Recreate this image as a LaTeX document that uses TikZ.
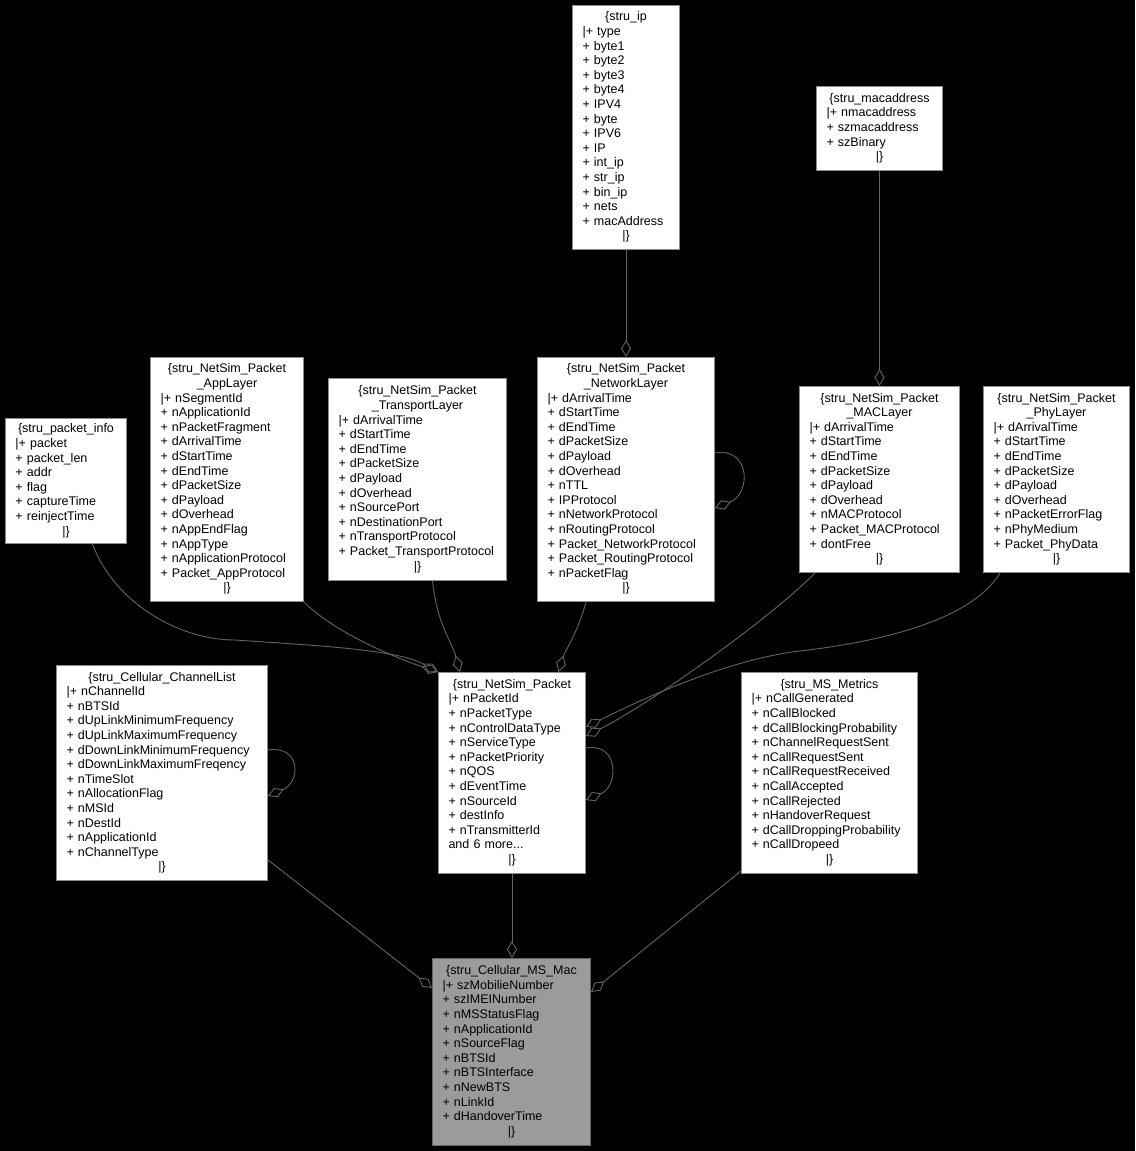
\documentclass[tikz,border=0pt]{standalone}
\usepackage{fontspec}
\setmainfont{Liberation Sans}
\usetikzlibrary{arrows.meta}
\definecolor{linkgray}{HTML}{646464}
\definecolor{boxline}{HTML}{8C8C8C}
\definecolor{mainfill}{HTML}{9B9B9B}
\newcommand{\recfont}{\fontsize{12.5pt}{14.6pt}\selectfont}
\newcommand{\hd}[1]{\makebox[\linewidth][c]{\strut#1}}
\tikzset{
  struct/.style={draw=boxline, fill=white, line width=1pt, anchor=north west,
    inner xsep=10pt, inner ysep=0pt, align=left, font=\recfont},
  link/.style={draw=linkgray, line width=0.9pt,
    -{Diamond[open,length=17pt,width=10pt]}}
}
\begin{document}
\begin{tikzpicture}[x=1pt,y=-1pt]
  \fill[black] (0,0) rectangle (1135,1151);
  \useasboundingbox (0,0) rectangle (1135,1151);

  \node[struct, text width=87pt, minimum height=244pt] (ip) at (572,5)
    {\hd{\{stru\_ip}\\|+ type\\+ byte1\\+ byte2\\+ byte3\\+ byte4\\+ IPV4\\+ byte\\+ IPV6\\+ IP\\+ int\_ip\\+ str\_ip\\+ bin\_ip\\+ nets\\+ macAddress\\\hd{|\}}};
  \node[struct, text width=106pt, minimum height=84pt] (mac) at (816,86)
    {\hd{\{stru\_macaddress}\\|+ nmacaddress\\+ szmacaddress\\+ szBinary\\\hd{|\}}};
  \node[struct, text width=101pt, minimum height=125pt] (pinfo) at (5,418)
    {\hd{\{stru\_packet\_info}\\|+ packet\\+ packet\_len\\+ addr\\+ flag\\+ captureTime\\+ reinjectTime\\\hd{|\}}};
  \node[struct, text width=133pt, minimum height=244pt] (app) at (150,357)
    {\hd{\{stru\_NetSim\_Packet}\\\hd{\_AppLayer}\\|+ nSegmentId\\+ nApplicationId\\+ nPacketFragment\\+ dArrivalTime\\+ dStartTime\\+ dEndTime\\+ dPacketSize\\+ dPayload\\+ dOverhead\\+ nAppEndFlag\\+ nAppType\\+ nApplicationProtocol\\+ Packet\_AppProtocol\\\hd{|\}}};
  \node[struct, text width=158pt, minimum height=202pt] (trans) at (328,378)
    {\hd{\{stru\_NetSim\_Packet}\\\hd{\_TransportLayer}\\|+ dArrivalTime\\+ dStartTime\\+ dEndTime\\+ dPacketSize\\+ dPayload\\+ dOverhead\\+ nSourcePort\\+ nDestinationPort\\+ nTransportProtocol\\+ Packet\_TransportProtocol\\\hd{|\}}};
  \node[struct, text width=157pt, minimum height=244pt] (net) at (537,357)
    {\hd{\{stru\_NetSim\_Packet}\\\hd{\_NetworkLayer}\\|+ dArrivalTime\\+ dStartTime\\+ dEndTime\\+ dPacketSize\\+ dPayload\\+ dOverhead\\+ nTTL\\+ IPProtocol\\+ nNetworkProtocol\\+ nRoutingProtocol\\+ Packet\_NetworkProtocol\\+ Packet\_RoutingProtocol\\+ nPacketFlag\\\hd{|\}}};
  \node[struct, text width=140pt, minimum height=186pt] (macl) at (799,386)
    {\hd{\{stru\_NetSim\_Packet}\\\hd{\_MACLayer}\\|+ dArrivalTime\\+ dStartTime\\+ dEndTime\\+ dPacketSize\\+ dPayload\\+ dOverhead\\+ nMACProtocol\\+ Packet\_MACProtocol\\+ dontFree\\\hd{|\}}};
  \node[struct, text width=126pt, minimum height=186pt] (phy) at (983,386)
    {\hd{\{stru\_NetSim\_Packet}\\\hd{\_PhyLayer}\\|+ dArrivalTime\\+ dStartTime\\+ dEndTime\\+ dPacketSize\\+ dPayload\\+ dOverhead\\+ nPacketErrorFlag\\+ nPhyMedium\\+ Packet\_PhyData\\\hd{|\}}};
  \node[struct, text width=191pt, minimum height=215pt] (chan) at (56,665)
    {\hd{\{stru\_Cellular\_ChannelList}\\|+ nChannelId\\+ nBTSId\\+ dUpLinkMinimumFrequency\\+ dUpLinkMaximumFrequency\\+ dDownLinkMinimumFrequency\\+ dDownLinkMaximumFreqency\\+ nTimeSlot\\+ nAllocationFlag\\+ nMSId\\+ nDestId\\+ nApplicationId\\+ nChannelType\\\hd{|\}}};
  \node[struct, text width=127pt, minimum height=201pt] (pkt) at (438,672)
    {\hd{\{stru\_NetSim\_Packet}\\|+ nPacketId\\+ nPacketType\\+ nControlDataType\\+ nServiceType\\+ nPacketPriority\\+ nQOS\\+ dEventTime\\+ nSourceId\\+ destInfo\\+ nTransmitterId\\and 6 more...\\\hd{|\}}};
  \node[struct, text width=156pt, minimum height=201pt] (metr) at (741,672)
    {\hd{\{stru\_MS\_Metrics}\\|+ nCallGenerated\\+ nCallBlocked\\+ dCallBlockingProbability\\+ nChannelRequestSent\\+ nCallRequestSent\\+ nCallRequestReceived\\+ nCallAccepted\\+ nCallRejected\\+ nHandoverRequest\\+ dCallDroppingProbability\\+ nCallDropeed\\\hd{|\}}};
  \node[struct, fill=mainfill, draw=linkgray, text width=138pt, minimum height=187pt] (msmac) at (432,958)
    {\hd{\{stru\_Cellular\_MS\_Mac}\\|+ szMobilieNumber\\+ szIMEINumber\\+ nMSStatusFlag\\+ nApplicationId\\+ nSourceFlag\\+ nBTSId\\+ nBTSInterface\\+ nNewBTS\\+ nLinkId\\+ dHandoverTime\\\hd{|\}}};

  \coordinate (pinfobend) at (235,640);
  \coordinate (phybend) at (800,651);

  \draw[link] (ip.south) -- (ip.south |- net.north);
  \draw[link] (mac.south) -- (mac.south |- macl.north);
  \draw[link] ([yshift=-96pt]net.north east) .. controls +(36,-6) and +(36,-14) .. ([yshift=-151pt]net.north east);
  \draw[link] ([xshift=26.5pt]pinfo.south) .. controls +(20,55) and +(-60,0) .. (pinfobend)
    .. controls +(90,6) and +(-40,-22) .. (pkt.north west);
  \draw[link] (app.south east) .. controls +(30,30) and +(-45,-15) .. (pkt.north west);
  \draw[link] ([xshift=15pt]trans.south) .. controls +(5,45) and +(-8,-30) .. ([xshift=22pt]pkt.north west);
  \draw[link] ([xshift=-40pt]net.south) .. controls +(-8,30) and +(6,-20) .. ([xshift=46.5pt]pkt.north);
  \draw[link] ([xshift=16pt]macl.south west) .. controls +(-50,50) and +(60,-30) .. ([yshift=-64pt]pkt.north east);
  \draw[link] ([xshift=17pt]phy.south west) .. controls +(-30,50) and +(70,-8) .. (phybend)
    .. controls +(-70,8) and +(60,-30) .. ([yshift=-55pt]pkt.north east);
  \draw[link] ([yshift=-76pt]pkt.north east) .. controls +(33,-6) and +(33,-14) .. ([yshift=-128pt]pkt.north east);
  \draw[link] ([yshift=-85pt]chan.north east) .. controls +(33,-5) and +(33,-14) .. ([yshift=-131pt]chan.north east);
  \draw[link] ([yshift=-195pt]chan.north east) -- ([yshift=-30pt]msmac.north west);
  \draw[link] (pkt.south) -- (pkt.south |- msmac.north);
  \draw[link] ([yshift=3pt]metr.south west) -- ([yshift=-34pt]msmac.north east);
\end{tikzpicture}
\end{document}
